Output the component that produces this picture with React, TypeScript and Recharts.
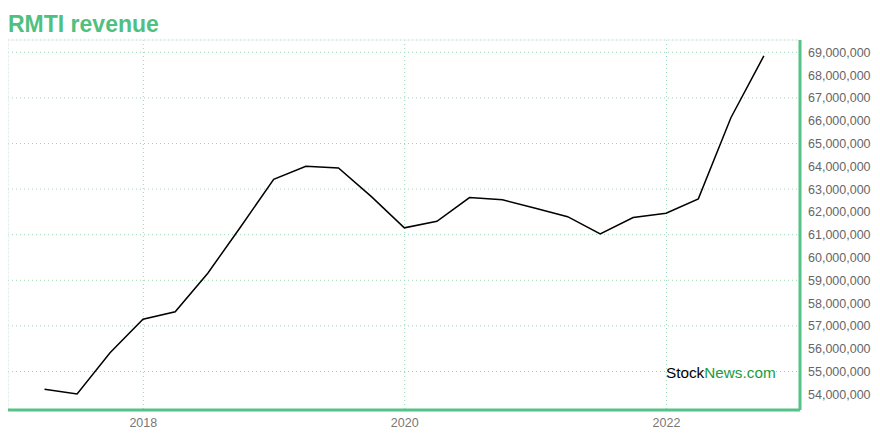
import React from 'react';
import {
  LineChart, Line, XAxis, YAxis, CartesianGrid, ReferenceLine
} from 'recharts';

const quarters = [
  '2017-03-31', '2017-06-30', '2017-09-30', '2017-12-31',
  '2018-03-31', '2018-06-30', '2018-09-30', '2018-12-31',
  '2019-03-31', '2019-06-30', '2019-09-30', '2019-12-31',
  '2020-03-31', '2020-06-30', '2020-09-30', '2020-12-31',
  '2021-03-31', '2021-06-30', '2021-09-30', '2021-12-31',
  '2022-03-31', '2022-06-30', '2022-09-30',
];

const revenue = [
  54220000, 54010000, 55820000, 57290000,
  57620000, 59310000, 61350000, 63430000,
  64000000, 63930000, 62670000, 61300000,
  61590000, 62630000, 62530000, 62160000,
  61790000, 61030000, 61750000, 61940000,
  62570000, 66130000, 68840000,
];

const yTicks = [
  54000000, 55000000, 56000000, 57000000, 58000000, 59000000, 60000000, 61000000,
  62000000, 63000000, 64000000, 65000000, 66000000, 67000000, 68000000, 69000000,
];

const yearTicks = ['2018-01-01', '2020-01-01', '2022-01-01'];

const toTs = (s: string) => {
  const [y, m, d] = s.split('-').map(Number);
  return Date.UTC(y, m - 1, d);
};

const data = quarters.map((q, i) => ({ date: toTs(q), value: revenue[i] }));
const xDomain = [toTs('2016-12-19'), toTs('2023-01-09')];
const yDomain = [53310000, 69540000];

const green = '#55c387';

export default function App() {
  return (
    <div style={{ position: 'relative', width: 864, height: 424, fontFamily: 'Arial, "Liberation Sans", sans-serif' }}>
      <div style={{
        position: 'absolute', left: 0, top: 2, fontSize: 23, fontWeight: 'bold',
        color: '#4fc07f', lineHeight: '28px'
      }}>
        RMTI revenue
      </div>
      <LineChart width={864} height={424} data={data} margin={{ top: 32, right: 0, bottom: 0, left: 0 }}>
        <CartesianGrid stroke="#9ad9b5" strokeDasharray="1 3" />
        <ReferenceLine y={yDomain[1]} stroke="#eeeeee" />
        <ReferenceLine x={xDomain[0]} stroke="#eeeeee" />
        <XAxis
          dataKey="date"
          type="number"
          scale="time"
          domain={xDomain}
          ticks={yearTicks.map(toTs)}
          tickFormatter={(v: number) => String(new Date(v).getUTCFullYear())}
          height={22}
          axisLine={{ stroke: green, strokeWidth: 3 }}
          tickLine={false}
          tick={{ fill: '#777', fontSize: 12.5 }}
          allowDataOverflow
        />
        <YAxis
          orientation="right"
          domain={yDomain}
          ticks={yTicks}
          width={72}
          tickFormatter={(v: number) => v.toLocaleString('en-US')}
          axisLine={{ stroke: green, strokeWidth: 3 }}
          tickLine={false}
          tick={{ fill: '#666', fontSize: 12.5 }}
          allowDataOverflow
        />
        <Line
          type="linear"
          dataKey="value"
          stroke="#000"
          strokeWidth={1.5}
          dot={false}
          isAnimationActive={false}
        />
      </LineChart>
      <div style={{ position: 'absolute', left: 658, top: 356, fontSize: 15.3, lineHeight: '18px' }}>
        <span style={{ color: '#000' }}>Stock</span>
        <span style={{ color: '#1e9b40' }}>News.com</span>
      </div>
    </div>
  );
}
